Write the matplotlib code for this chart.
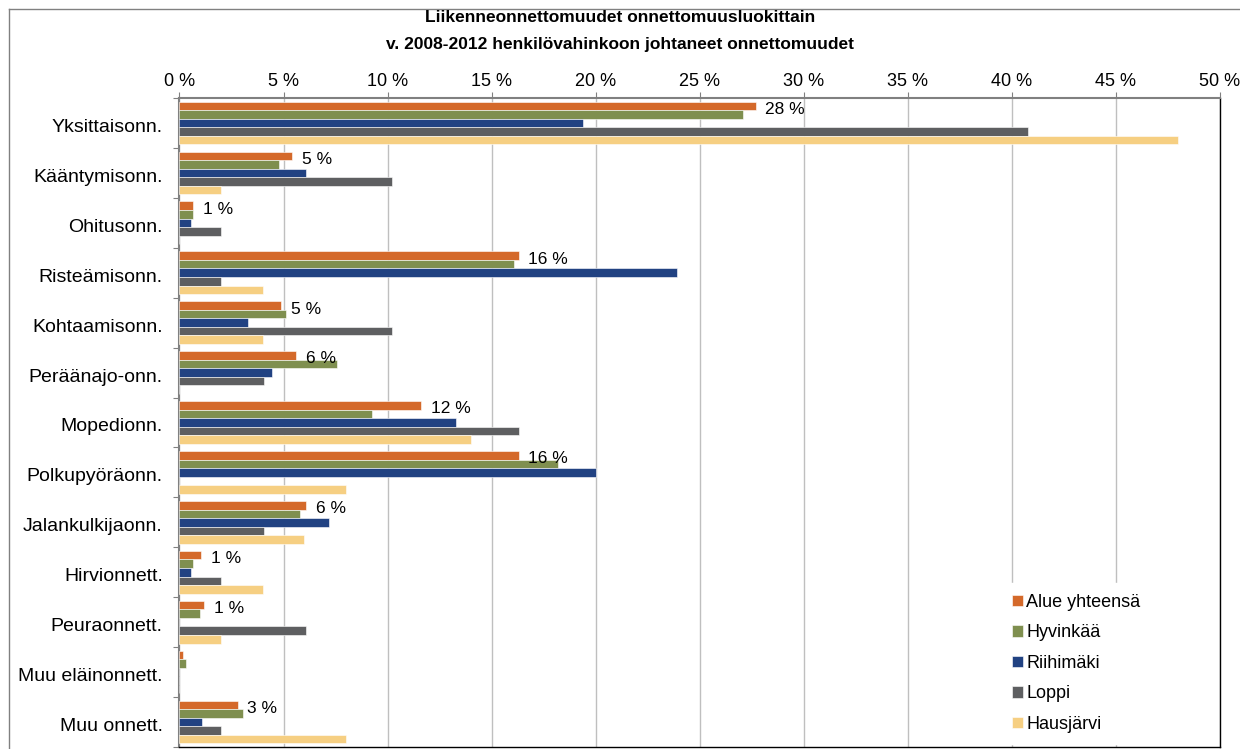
import numpy as np
import matplotlib.pyplot as plt
from matplotlib.lines import Line2D

plt.rcParams['font.family'] = ['Liberation Sans', 'DejaVu Sans']

categories = ['Yksittaisonn.', 'Kääntymisonn.', 'Ohitusonn.', 'Risteämisonn.',
              'Kohtaamisonn.', 'Peräänajo-onn.', 'Mopedionn.', 'Polkupyöräonn.',
              'Jalankulkijaonn.', 'Hirvionnett.', 'Peuraonnett.', 'Muu eläinonnett.',
              'Muu onnett.']
series = ['Alue yhteensä', 'Hyvinkää', 'Riihimäki', 'Loppi', 'Hausjärvi']
alue = [27.7, 5.4, 0.67, 16.3, 4.9, 5.6, 11.6, 16.3, 6.1, 1.03, 1.2, 0.15, 2.8]
hyvinkaa = [27.1, 4.8, 0.67, 16.1, 5.1, 7.55, 9.27, 18.2, 5.8, 0.67, 1.0, 0.31, 3.07]
riihimaki = [19.4, 6.1, 0.54, 23.9, 3.3, 4.43, 13.3, 20.0, 7.2, 0.54, 0, 0, 1.08]
loppi = [40.8, 10.2, 2.0, 2.0, 10.2, 4.06, 16.3, 0, 4.06, 2.0, 6.1, 0, 2.0]
hausjarvi = [48.0, 2.0, 0, 4.0, 4.0, 0, 14.0, 8.0, 6.0, 4.0, 2.0, 0, 8.0]
labels = ['28 %', '5 %', '1 %', '16 %', '5 %', '6 %', '12 %', '16 %', '6 %',
          '1 %', '1 %', '', '3 %']
colors = ['#D4692A', '#7F8F4F', '#214282', '#5E5F61', '#F6CF82']
xticks = np.arange(0, 51, 5)

data = [alue, hyvinkaa, riihimaki, loppi, hausjarvi]

fig = plt.figure(figsize=(12.4, 7.49), dpi=100)
ax = fig.add_axes([179.5/1240, 1-747/749, 1040/1240, 649/749])

y = np.arange(len(categories))
h = 0.171
for k, (vals, name) in enumerate(zip(data, series)):
    ax.barh(y + (k - 2) * h, vals, height=h, color=colors[k], label=name,
            edgecolor='white', linewidth=0.4, zorder=3)

for i, lab in enumerate(labels):
    if lab:
        ax.annotate(lab, (alue[i], y[i] - 2 * h), xytext=(7, -2.5),
                    textcoords='offset points', va='center', ha='left', fontsize=12.5)

ax.set_ylim(len(categories) - 0.5, -0.5)
ax.set_xlim(0, 50)
ax.set_yticks(np.arange(len(categories) + 1) - 0.5, minor=False)
ax.set_yticklabels([])
ax.set_yticks(y + 0.05, minor=True)
ax.set_yticklabels(categories, minor=True, fontsize=14)
ax.tick_params(axis='y', which='minor', length=0, pad=12)
ax.tick_params(axis='y', which='major', length=4, color='#808080', direction='out')

ax.xaxis.tick_top()
ax.set_xticks(xticks)
ax.set_xticklabels([f'{v} %' for v in xticks], fontsize=13)
ax.tick_params(axis='x', length=4, color='#808080', pad=2)
ax.grid(axis='x', color='#BFBFBF', linewidth=1, zorder=0)

for s in ['left', 'top']:
    ax.spines[s].set_color('#808080')
    ax.spines[s].set_linewidth(1.5)
for s in ['right', 'bottom']:
    ax.spines[s].set_color('black')
    ax.spines[s].set_linewidth(1)

leg = ax.legend(loc='lower left', frameon=True, fontsize=13, handlelength=0.6,
                handleheight=0.6, handletextpad=0.2, labelspacing=0.75,
                borderaxespad=0, borderpad=0.6, fancybox=False, edgecolor='white',
                framealpha=1, bbox_to_anchor=(0.79, 0.005))
leg.set_zorder(5)

fig.text(0.5, 1 - 18/749, 'Liikenneonnettomuudet onnettomuusluokittain',
         ha='center', va='center', fontsize=12.5, fontweight='bold')
fig.text(0.5, 1 - 44/749, 'v. 2008-2012 henkilövahinkoon johtaneet onnettomuudet',
         ha='center', va='center', fontsize=12.5, fontweight='bold')

# outer chart border (left and top visible)
fig.add_artist(Line2D([9/1240, 9/1240], [0, 1 - 9/749], transform=fig.transFigure,
                      color='#808080', linewidth=1))
fig.add_artist(Line2D([9/1240, 1], [1 - 9/749, 1 - 9/749], transform=fig.transFigure,
                      color='#808080', linewidth=1))

fig.savefig('out.png', dpi=100)
